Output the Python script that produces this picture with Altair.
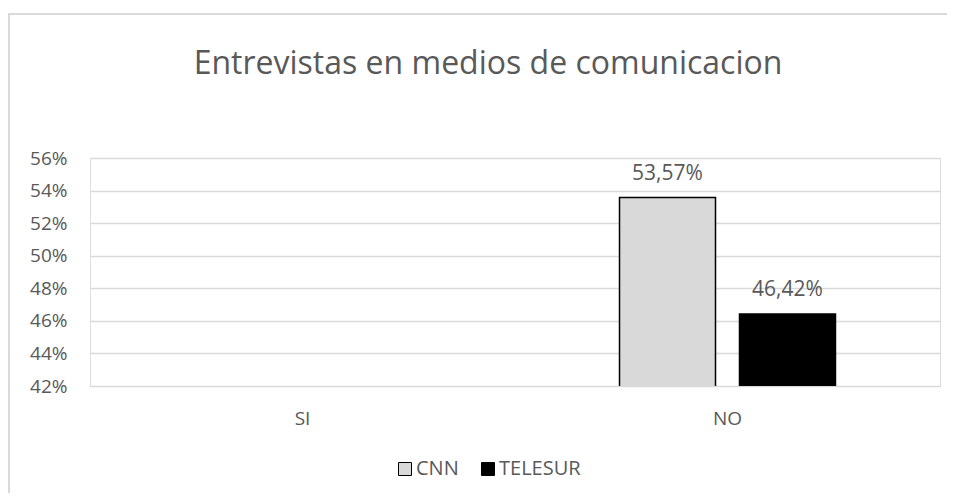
import altair as alt
import pandas as pd

categories = ["SI", "NO"]
series = ["CNN", "TELESUR"]
cnn_values = [0.0, 0.5357]
telesur_values = [0.0, 0.4642]
y_ticks = [0.42, 0.44, 0.46, 0.48, 0.50, 0.52, 0.54, 0.56]
title_text = "Entrevistas en medios de comunicacion"

rows = []
for i, c in enumerate(categories):
    rows.append({"categoria": c, "medio": series[0], "valor": cnn_values[i]})
    rows.append({"categoria": c, "medio": series[1], "valor": telesur_values[i]})
df = pd.DataFrame(rows)

GRAY_TEXT = "#595959"
GRID = "#d9d9d9"
FONT = "Open Sans"

x_enc = alt.X(
    "categoria:N",
    scale=alt.Scale(domain=categories, paddingInner=0, paddingOuter=0),
    axis=alt.Axis(title=None, labelAngle=0, domain=False, ticks=False,
                  labelPadding=23, labelFontSize=19, labelColor=GRAY_TEXT,
                  labelFont=FONT),
)
xo_enc = alt.XOffset(
    "medio:N",
    scale=alt.Scale(domain=series, paddingInner=0.2, paddingOuter=0.871),
)
y_enc = alt.Y(
    "valor:Q",
    scale=alt.Scale(domain=[y_ticks[0], y_ticks[-1]], zero=False, nice=False),
    axis=alt.Axis(title=None, values=y_ticks, format=".0%", domain=False,
                  ticks=False, labelPadding=23, labelFontSize=19,
                  labelColor=GRAY_TEXT, labelFont=FONT, grid=True,
                  gridColor=GRID, gridWidth=1.5),
)

base = alt.Chart(df).transform_filter("datum.valor > 0")

bars = base.mark_bar(stroke="black", strokeWidth=1.5, clip=True).encode(
    x=x_enc,
    xOffset=xo_enc,
    y=y_enc,
    color=alt.Color(
        "medio:N",
        scale=alt.Scale(domain=series, range=["#d9d9d9", "#000000"]),
        legend=alt.Legend(title=None, orient="none", legendX=305, legendY=301,
                          direction="horizontal", symbolType="square",
                          symbolSize=169, symbolStrokeColor="black",
                          symbolStrokeWidth=1, labelFontSize=20,
                          labelColor=GRAY_TEXT, labelFont=FONT,
                          columnPadding=19, labelOffset=1),
    ),
)

labels = base.transform_calculate(
    etiqueta="replace(format(datum.valor, '.2%'), '.', ',')"
).mark_text(baseline="bottom", dy=-14, fontSize=21, color=GRAY_TEXT, font=FONT).encode(
    x=x_enc,
    xOffset=xo_enc,
    y=y_enc,
    text="etiqueta:N",
)

frame_df = pd.DataFrame({"k": [0]})
left_line = alt.Chart(frame_df).mark_rule(color=GRID, strokeWidth=2).encode(
    x=alt.value(-81), y=alt.value(-144), y2=alt.value(340)
)
top_line = alt.Chart(frame_df).mark_rule(color=GRID, strokeWidth=2).encode(
    x=alt.value(-82), x2=alt.value(860), y=alt.value(-144)
)

chart = alt.layer(left_line, top_line, bars, labels).properties(
    width=850,
    height=228,
    title=alt.TitleParams(title_text, fontSize=32, color=GRAY_TEXT, font=FONT,
                          fontWeight="normal", anchor="middle", dx=-27,
                          baseline="alphabetic", offset=-93),
    padding={"left": 82, "top": 150, "right": 7, "bottom": 107},
    autosize=alt.AutoSizeParams(type="none"),
).configure_view(strokeWidth=0).configure(font=FONT)

chart.save("out.html", embed_options={"renderer": "svg", "actions": False})
